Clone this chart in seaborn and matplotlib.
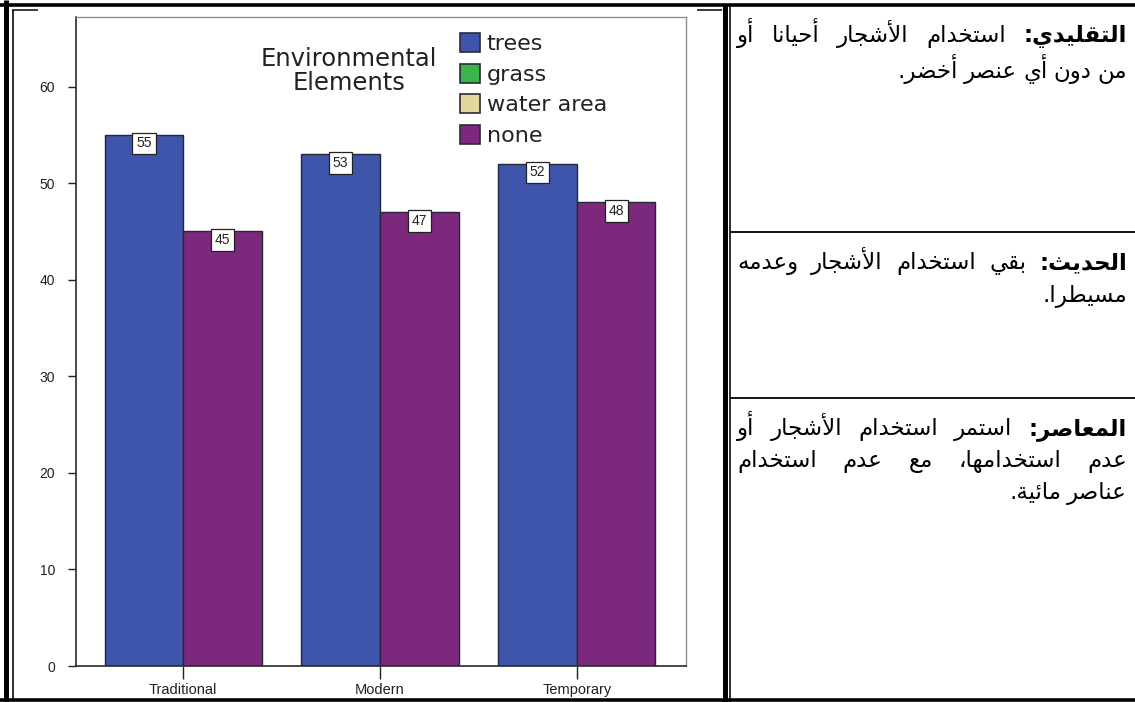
import matplotlib
matplotlib.use("Agg")
import matplotlib.pyplot as plt
from matplotlib.lines import Line2D
from matplotlib.patches import Patch
import seaborn as sns
import pandas as pd

# ---------------- data ----------------
categories = ["Traditional", "Modern", "Temporary"]
trees = [55, 53, 52]
none_vals = [45, 47, 48]
legend_labels = ["trees", "grass", "water area", "none"]
legend_colors = ["#3E55AB", "#39B54A", "#E2D79E", "#7C287C"]
legend_title = "Environmental\nElements"
y_ticks = [0, 10, 20, 30, 40, 50, 60]

cell_texts = [
    ["التقليدي: استخدام الأشجار أحيانا أو", "من دون أي عنصر أخضر."],
    ["الحديث: بقي استخدام الأشجار وعدمه", "مسيطرا."],
    ["المعاصر: استمر استخدام الأشجار أو", "عدم استخدامها، مع عدم استخدام", "عناصر مائية."],
]

# ---------------- simple Arabic shaping ----------------
DUAL = {'ئ': 0xFE89, 'ب': 0xFE8F, 'ت': 0xFE95, 'ث': 0xFE99, 'ج': 0xFE9D, 'ح': 0xFEA1,
        'خ': 0xFEA5, 'س': 0xFEB1, 'ش': 0xFEB5, 'ص': 0xFEB9, 'ض': 0xFEBD, 'ط': 0xFEC1,
        'ظ': 0xFEC5, 'ع': 0xFEC9, 'غ': 0xFECD, 'ف': 0xFED1, 'ق': 0xFED5, 'ك': 0xFED9,
        'ل': 0xFEDD, 'م': 0xFEE1, 'ن': 0xFEE5, 'ه': 0xFEE9, 'ي': 0xFEF1}
RIGHT = {'آ': 0xFE81, 'أ': 0xFE83, 'ؤ': 0xFE85, 'إ': 0xFE87, 'ا': 0xFE8D, 'ة': 0xFE93,
         'د': 0xFEA9, 'ذ': 0xFEAB, 'ر': 0xFEAD, 'ز': 0xFEAF, 'و': 0xFEED, 'ى': 0xFEEF}
NONJ = {'ء': 0xFE80}
LAMALEF = {'آ': 0xFEF5, 'أ': 0xFEF7, 'إ': 0xFEF9, 'ا': 0xFEFB}
FORMS = {**DUAL, **RIGHT, **NONJ}


def shape(s):
    out = []
    i, n = 0, len(s)
    while i < n:
        c = s[i]
        if c not in FORMS:
            out.append(c)
            i += 1
            continue
        pj = i > 0 and s[i - 1] in DUAL
        if c == 'ل' and i + 1 < n and s[i + 1] in LAMALEF:
            out.append(chr(LAMALEF[s[i + 1]] + (1 if pj else 0)))
            i += 2
            continue
        nxt = s[i + 1] if i + 1 < n else None
        nj = c in DUAL and nxt is not None and nxt in FORMS and nxt not in NONJ
        base = FORMS[c]
        if c in NONJ:
            code = base
        elif c in DUAL:
            code = base + (3 if (pj and nj) else 1 if pj else 2 if nj else 0)
        else:
            code = base + (1 if pj else 0)
        out.append(chr(code))
        i += 1
    return ''.join(out)[::-1]


# ---------------- figure ----------------
W, H = 1135, 702
sns.set_theme(style="white")
plt.rcParams['font.family'] = ['Liberation Sans', 'DejaVu Sans']
fig = plt.figure(figsize=(W / 100, H / 100), dpi=100)
fig.patch.set_facecolor("white")


def fx(px):
    return px / W


def fy(py):
    return 1 - py / H


ax = fig.add_axes([fx(76), fy(666), fx(686) - fx(76), fy(17) - fy(666)])

df = pd.DataFrame({
    "style": categories * 2,
    "element": ["trees"] * len(categories) + ["none"] * len(categories),
    "value": trees + none_vals,
})
pal = {"trees": legend_colors[0], "none": legend_colors[3]}
sns.barplot(data=df, x="style", y="value", hue="element", order=categories,
            hue_order=["trees", "none"], palette=pal, width=0.8,
            edgecolor="#26263a", linewidth=1.0, saturation=1, ax=ax, legend=False)

for cont in ax.containers:
    for bar in cont.patches:
        xc = bar.get_x() + bar.get_width() / 2
        yv = bar.get_height()
        ax.annotate(f"{yv:.0f}", (xc, yv), xytext=(0, -6.2), textcoords="offset points",
                    ha="center", va="center", fontsize=10, color="#222222",
                    bbox=dict(boxstyle="square,pad=0.28", fc="white", ec="#222222", lw=0.9))

ax.set_xlim(-0.545, 2.555)
ax.set_ylim(0, 67.2)
ax.set_yticks(y_ticks)
ax.set_xlabel("")
ax.set_ylabel("")
ax.tick_params(axis="y", length=6, width=1, pad=9, labelsize=10, colors="#222222", direction="out", left=True)
ax.tick_params(axis="x", length=9, width=1, pad=3, labelsize=10.5, colors="#222222", direction="out", bottom=True)
for side in ["left", "bottom"]:
    ax.spines[side].set_color("#2a2a2a")
    ax.spines[side].set_linewidth(1.2)
for side in ["top", "right"]:
    ax.spines[side].set_color("#8f8f8f")
    ax.spines[side].set_linewidth(1.0)

handles = [Patch(facecolor=c, edgecolor="#2b2b3a", linewidth=1.2) for c in legend_colors]
leg = fig.legend(handles, legend_labels, loc="upper left", bbox_to_anchor=(fx(460), fy(33)),
                 frameon=False, handlelength=0.9, handleheight=0.95,
                 handletextpad=0.3, labelspacing=0.42, borderpad=0, borderaxespad=0,
                 prop={"family": "DejaVu Sans", "size": 16})
for t in leg.get_texts():
    t.set_color("#222222")
fig.text(fx(349), fy(71), legend_title, ha="center", va="center", fontsize=17.5,
         family="DejaVu Sans", color="#222222", linespacing=0.95)

# ---------------- table borders ----------------
def hline(y, x0, x1, lw):
    fig.add_artist(Line2D([fx(x0), fx(x1)], [fy(y), fy(y)], color="black", lw=lw,
                          transform=fig.transFigure, solid_capstyle="butt"))


def vline(x, y0, y1, lw):
    fig.add_artist(Line2D([fx(x), fx(x)], [fy(y0), fy(y1)], color="black", lw=lw,
                          transform=fig.transFigure, solid_capstyle="butt"))


px2pt = 0.72
hline(5.2, 0, W, 3.6 * px2pt)
hline(9.8, 12, 38, 1.5 * px2pt)
hline(9.8, 697, 722, 1.5 * px2pt)
hline(700.2, 0, W, 3.6 * px2pt)
vline(5.5, 0, H, 5 * px2pt)
vline(12.8, 9.5, 699, 1.6 * px2pt)
vline(724.5, 5, H, 5 * px2pt)
vline(729.5, 5, H, 1.6 * px2pt)
hline(232, 730, W, 1.8 * px2pt)
hline(398, 730, W, 1.8 * px2pt)

# ---------------- Arabic paragraphs (justified, right aligned) ----------------
renderer = fig.canvas.get_renderer()
ar_size = 16.5
right_x, left_x = 1127, 737
baselines = [[42, 78], [269, 302], [435, 467, 499]]
space_px = 6

for ci, lines in enumerate(cell_texts):
    for li, line in enumerate(lines):
        words = line.split(" ")
        objs = []
        for wi, w in enumerate(words):
            bold = (li == 0 and wi == 0)
            t = fig.text(0, 0, shape(w), ha="right", va="baseline", fontsize=ar_size,
                         family="DejaVu Sans", weight="bold" if bold else "normal",
                         color="black")
            objs.append(t)
        widths = [o.get_window_extent(renderer).width for o in objs]
        last = li == len(lines) - 1
        if not last and len(objs) > 1:
            gap = max(space_px, (right_x - left_x - sum(widths)) / (len(objs) - 1))
        else:
            gap = space_px
        x = right_x
        for o, wdt in zip(objs, widths):
            o.set_position((fx(x), fy(baselines[ci][li])))
            x -= wdt + gap

fig.savefig("out.png", dpi=100, facecolor="white")
